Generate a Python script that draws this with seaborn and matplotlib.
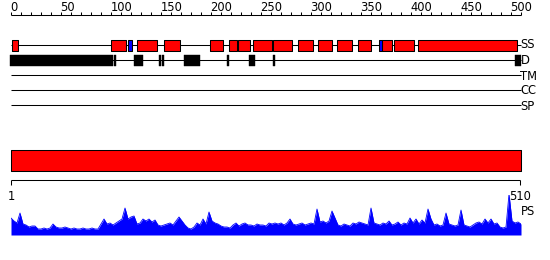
import numpy as np
import matplotlib
matplotlib.use("Agg")
import matplotlib.pyplot as plt
import seaborn as sns

# ---- data ----
seq_len = 510
ruler_major = list(range(0, 501, 50))
ruler_minor = list(range(0, 511, 10))

helix_start = [1, 100, 126, 153, 199, 218, 227, 242, 262, 287, 307, 326, 347, 371, 383, 407]
helix_end   = [7, 115, 146, 169, 212, 226, 239, 261, 281, 302, 321, 341, 360, 381, 403, 506]
strand_start = [117, 368]
strand_end   = [121, 371]
dis_start = [-1, 103, 123, 148, 151, 173, 216, 238, 262, 504]
dis_end   = [102, 105, 132, 150, 153, 189, 218, 244, 264, 510]
track_labels = ["SS", "D", "TM", "CC", "SP"]

ps_step = 3
ps_values = [17, 14, 12, 22, 11, 10, 8, 9, 9, 6, 6, 7, 6, 7, 11, 8, 7, 7, 8, 7,
             6, 7, 6, 6, 7, 6, 6, 7, 6, 6, 11, 16, 11, 12, 10, 12, 14, 16, 27, 16,
             18, 19, 11, 12, 16, 14, 16, 13, 15, 10, 9, 10, 11, 12, 10, 14, 18, 14, 10, 7,
             6, 8, 12, 10, 16, 11, 23, 14, 12, 11, 9, 8, 8, 7, 10, 12, 9, 11, 12, 10,
             10, 9, 11, 10, 10, 9, 12, 11, 12, 11, 12, 10, 12, 16, 11, 10, 11, 12, 10, 11,
             12, 11, 26, 13, 14, 12, 14, 24, 17, 10, 9, 11, 10, 9, 12, 11, 13, 12, 11, 10,
             27, 12, 11, 10, 12, 11, 14, 10, 11, 13, 10, 12, 11, 17, 12, 16, 11, 15, 12, 26,
             16, 10, 11, 9, 10, 22, 11, 10, 9, 10, 25, 10, 9, 8, 10, 12, 13, 11, 16, 12,
             16, 11, 12, 8, 7, 8, 41, 14, 12, 13, 11]
ps_pos = np.arange(len(ps_values)) * ps_step

# ---- figure ----
sns.set_theme(style="white")
plt.rcParams["font.family"] = ["DejaVu Sans"]
fig = plt.figure(figsize=(5.5, 2.6), dpi=100)
ax = fig.add_axes([0, 0, 1, 1])
ax.set_xlim(-11, 539)
ax.set_ylim(260, 0)
ax.axis("off")
lw = 0.75
fs = 8.3

# top ruler
ax.hlines(15, 0, seq_len, color="black", lw=lw)
ax.vlines(ruler_minor, 12, 15, color="black", lw=lw)
for t in ruler_major:
    ax.text(t - 0.5, 10.7, str(t), ha="left", va="baseline", fontsize=fs, color="black")

# track lines
rows = [45, 60, 75, 90, 105]
baselines = [47.5, 64.5, 80, 94.5, 110]
for y in rows:
    ax.hlines(y, 0, seq_len, color="black", lw=lw, zorder=1)
for lab, yb in zip(track_labels, baselines):
    ax.text(509.5, yb, lab, ha="left", va="baseline", fontsize=fs, color="black")

# SS
ax.broken_barh([(s, e - s) for s, e in zip(helix_start, helix_end)], (40.3, 10.4),
               facecolors="#ff0000", edgecolors="black", linewidth=lw, zorder=2)
ax.broken_barh([(s, e - s) for s, e in zip(strand_start, strand_end)], (40.3, 10.4),
               facecolors="#0000ff", edgecolors="black", linewidth=lw, zorder=2)
# disorder
ax.broken_barh([(s, e - s) for s, e in zip(dis_start, dis_end)], (55, 10.7),
               facecolors="black", edgecolors="black", linewidth=0.3, zorder=2)

# bottom bar and ruler
ax.broken_barh([(0, seq_len)], (150, 20.7), facecolors="#ff0000",
               edgecolors="black", linewidth=lw)
ax.hlines(180, 0, seq_len - 1, color="black", lw=lw)
ax.vlines([0, seq_len - 1], 180, 185, color="black", lw=lw)
ax.text(0.5, 200, "1", ha="center", va="baseline", fontsize=fs, color="black")
ax.text(seq_len - 1, 200, str(seq_len), ha="center", va="baseline", fontsize=fs, color="black")
ax.text(517, 215, "PS", ha="center", va="baseline", fontsize=fs, color="black")

# PS profile
ax2 = fig.add_axes([11 / 550, 25 / 260, 510 / 550, 40 / 260])
ax2.set_xlim(0, seq_len)
ax2.set_ylim(0, 40)
ax2.axis("off")
ax2.fill_between(ps_pos, ps_values, 0, color="#0000ff", lw=0)
sns.lineplot(x=ps_pos, y=ps_values, ax=ax2, color="#0000ff", lw=0.6)

fig.savefig("out.png", dpi=100)
